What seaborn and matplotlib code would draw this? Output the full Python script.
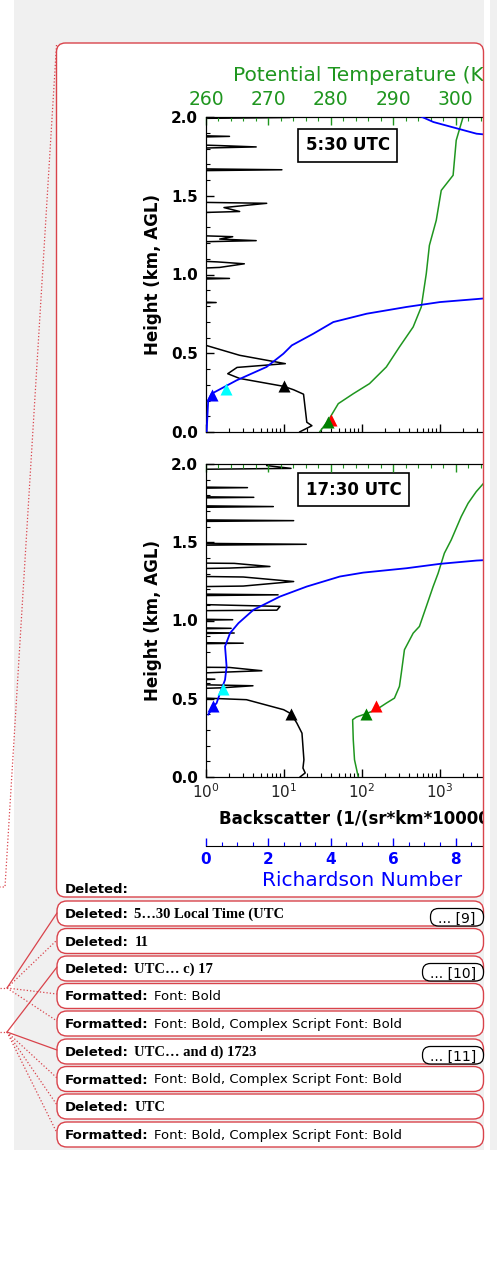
import numpy as np
import matplotlib.pyplot as plt
import matplotlib.ticker as mticker
from matplotlib.patches import FancyBboxPatch, Rectangle
import seaborn as sns

sns.set_style('ticks', rc={'axes.edgecolor': 'black', 'axes.linewidth': 1.1,
                           'xtick.direction': 'in', 'ytick.direction': 'in',
                           'xtick.color': 'black', 'ytick.color': 'black',
                           'text.color': 'black', 'axes.labelcolor': 'black'})
plt.rcParams['font.family'] = ['DejaVu Sans']

GREEN = '#1f961f'
BLUE = '#0000ff'
RED = '#d9434b'
GRAY = '#f0f0f0'
LO = 0.5  # no signal, falls left of the backscatter axis

# ---- 05:30 UTC profiles ----
h_bs_a = [0.0, 0.04, 0.062, 0.24, 0.268, 0.29, 0.34, 0.37, 0.41, 0.434, 0.487, 0.55, 0.56,
          0.815, 0.822, 0.83, 0.968, 0.975, 0.982, 1.035, 1.045, 1.068, 1.08, 1.09,
          1.205, 1.215, 1.225, 1.24, 1.25, 1.39, 1.40, 1.425, 1.452, 1.46,
          1.658, 1.665, 1.672, 1.80, 1.81, 1.818, 1.826, 1.87, 1.877, 1.884, 1.99, 1.997, 2.0]
bs_a = [15.8, 22.8, 19.6, 17.8, 13.3, 9.9, 2.7, 1.9, 2.5, 10.4, 2.7, 1.0, LO,
        LO, 1.35, LO, LO, 2.0, LO, LO, 1.5, 3.1, 1.4, LO,
        LO, 4.4, 1.5, 2.2, LO, LO, 2.7, 1.7, 6.0, LO,
        LO, 9.4, LO, LO, 4.4, 1.6, LO, LO, 2.0, LO, LO, 12.0, LO]
h_ri_a = [0.0, 0.2, 0.243, 0.328, 0.413, 0.497, 0.55, 0.624, 0.698, 0.751, 0.794, 0.825,
          0.844, 0.87, 0.90, 1.80, 1.85, 1.894, 1.968, 2.02]
ri_a = [0.02, 0.07, 0.18, 0.98, 1.94, 2.48, 2.75, 3.44, 4.08, 5.15, 6.43, 7.5,
        8.67, 10.2, 13.0, 14.0, 11.0, 8.67, 7.29, 6.7]
h_th_a = [0.0, 0.074, 0.18, 0.243, 0.307, 0.413, 0.54, 0.667, 0.794, 1.005, 1.185, 1.344,
          1.534, 1.63, 1.852, 2.0]
th_a = [278.2, 279.6, 281.2, 283.6, 286.2, 288.9, 291.0, 293.2, 294.5, 295.3, 295.8, 296.9,
        297.7, 299.6, 300.1, 301.2]
# markers: (value, height)
mk_bs_a = (9.9, 0.29)
mk_ri_a = (0.18, 0.233)
mk_ri2_a = (0.64, 0.275)
mk_th_red_a = (280.1, 0.074)
mk_th_a = (279.6, 0.063)

# ---- 17:30 UTC profiles ----
h_bs_b = [0.0, 0.026, 0.057, 0.11, 0.28, 0.345, 0.404, 0.43, 0.494, 0.504, 0.51,
          0.562, 0.57, 0.583, 0.592, 0.615, 0.625, 0.632, 0.66, 0.679, 0.70, 0.702,
          0.85, 0.855, 0.86, 0.915, 0.92, 0.925, 0.945, 0.95, 0.955, 1.0, 1.005, 1.01,
          1.062, 1.066, 1.09, 1.105, 1.158, 1.164, 1.17,
          1.215, 1.22, 1.249, 1.278, 1.283, 1.33, 1.335, 1.345, 1.365, 1.368,
          1.48, 1.487, 1.494, 1.632, 1.638, 1.644, 1.722, 1.728, 1.734, 1.782, 1.787, 1.792,
          1.844, 1.849, 1.854, 1.965, 1.972, 1.99, 2.0]
bs_b = [16.0, 18.7, 17.5, 18.0, 17.0, 14.6, 12.3, 9.9, 3.3, 1.0, LO,
        LO, 1.6, 4.0, LO, LO, 1.3, LO, LO, 5.2, 2.0, LO,
        LO, 3.0, LO, LO, 2.3, LO, LO, 2.1, LO, LO, 2.2, LO,
        LO, 8.1, 8.9, LO, LO, 8.4, LO,
        LO, 3.0, 13.3, 3.0, LO, LO, 2.0, 6.6, 2.3, LO,
        LO, 19.3, LO, LO, 13.3, LO, LO, 7.3, LO, LO, 4.1, LO,
        LO, 3.4, LO, LO, 12.3, 6.0, 6.0]
h_ri_b = [0.398, 0.451, 0.472, 0.536, 0.621, 0.706, 0.834, 0.919, 0.983, 1.068, 1.153,
          1.217, 1.281, 1.306, 1.334, 1.362, 1.383, 1.40, 1.42]
ri_b = [0.07, 0.24, 0.34, 0.45, 0.61, 0.66, 0.61, 0.77, 1.04, 1.52, 2.37,
        3.23, 4.29, 5.04, 6.43, 7.5, 8.67, 10.3, 14.0]
h_th_b = [0.0, 0.11, 0.238, 0.366, 0.383, 0.404, 0.43, 0.472, 0.504, 0.579, 0.664, 0.813,
          0.919, 0.962, 1.089, 1.217, 1.302, 1.43, 1.515, 1.664, 1.749, 1.823, 1.9, 2.0]
th_b = [284.4, 283.8, 283.6, 283.5, 284.1, 285.6, 287.3, 288.9, 290.2, 291.0, 291.3, 291.8,
        293.2, 294.2, 295.3, 296.4, 297.2, 298.2, 299.3, 300.9, 302.0, 303.3, 305.0, 307.0]
mk_bs_b = (12.3, 0.404)
mk_ri_b = (0.24, 0.451)
mk_ri2_b = (0.56, 0.562)
mk_th_red_b = (287.2, 0.451)
mk_th_b = (285.6, 0.404)

# axis ticks (the last tick of each x axis sits past the page crop, so it has no label)
y_ticks = [0.0, 0.5, 1.0, 1.5, 2.0]
y_tick_labels = ['0.0', '0.5', '1.0', '1.5', '2.0']
bs_ticks = [1, 10, 100, 1000, 10000]
bs_tick_labels = ['$10^0$', '$10^1$', '$10^2$', '$10^3$', '']
th_ticks = [260, 270, 280, 290, 300, 310]
th_tick_labels = ['260', '270', '280', '290', '300', '']
ri_ticks = [0, 2, 4, 6, 8, 10]
ri_tick_labels = ['0', '2', '4', '6', '8', '']

# comment balloons (text parts)
comments = [('Deleted:', '5\u202630 Local Time (UTC', 'serif', '... [9]'),
            ('Deleted:', '11', 'serif', None),
            ('Deleted:', 'UTC\u2026 c) 17', 'serif', '... [10]'),
            ('Formatted:', 'Font: Bold', 'sans', None),
            ('Formatted:', 'Font: Bold, Complex Script Font: Bold', 'sans', None),
            ('Deleted:', 'UTC\u2026 and d) 1723', 'serif', '... [11]'),
            ('Formatted:', 'Font: Bold, Complex Script Font: Bold', 'sans', None),
            ('Deleted:', 'UTC', 'serif', None),
            ('Formatted:', 'Font: Bold, Complex Script Font: Bold', 'sans', None)]
comment_tops = [901, 928.5, 956, 983.5, 1011, 1039, 1066.5, 1094, 1122]

W, H = 497, 1262
fig = plt.figure(figsize=(W / 100, H / 100), dpi=100)

# page background and main balloon
bg = fig.add_axes([0, 0, 1, 1], zorder=-1)
bg.set_xlim(0, W)
bg.set_ylim(H, 0)
bg.axis('off')
bg.add_patch(Rectangle((14, 0), 476, 1150, facecolor=GRAY, edgecolor='none'))
bg.add_patch(FancyBboxPatch((56.5, 43), 427, 854, boxstyle='round,pad=0,rounding_size=9',
                            facecolor='white', edgecolor='none'))


def panel(top, bottom, h_bs, bs, h_th, th, h_ri, ri, mk_bs, mk_ri, mk_ri2, mk_red, mk_th,
          stamp, first):
    ax = fig.add_axes([206 / W, 1 - bottom / H, 312 / W, (bottom - top) / H])
    ax.set_xscale('log')
    sns.lineplot(x=bs, y=h_bs, sort=False, estimator=None, color='black', lw=1.1, ax=ax)
    sns.scatterplot(x=[mk_bs[0]], y=[mk_bs[1]], marker='^', s=75, color='black',
                    linewidth=0, ax=ax, zorder=4)
    ax.set_xlim(1, 1e4)
    ax.set_ylim(0, 2)
    ax.set_yticks(y_ticks, labels=y_tick_labels, fontweight='bold', fontsize=11)
    ax.yaxis.set_minor_locator(mticker.MultipleLocator(0.1))
    ax.set_xticks(bs_ticks, labels=bs_tick_labels if not first else [''] * len(bs_ticks))
    ax.tick_params(axis='y', which='major', length=6, width=1, pad=6)
    ax.tick_params(axis='y', which='minor', length=3, width=0.8)
    ax.tick_params(axis='x', which='both', top=False, bottom=True, labelbottom=not first,
                   labelsize=11, labelcolor='#222222', pad=4)
    ax.tick_params(axis='x', which='major', length=6, width=1)
    ax.tick_params(axis='x', which='minor', length=3, width=0.8)
    ax.set_xlabel('')
    ax.set_ylabel('')
    ax.text(-0.17, 0.5, 'Height (km, AGL)', transform=ax.transAxes, rotation=90,
            ha='center', va='center', fontsize=12, fontweight='bold')
    ax.text(0.32, 0.91 if first else 0.917, stamp, transform=ax.transAxes, ha='left',
            va='center', fontsize=12, fontweight='bold',
            bbox=dict(boxstyle='square,pad=0.45', facecolor='white', edgecolor='black', lw=1.2))
    if not first:
        ax.set_xlabel('Backscatter (1/(sr*km*10000))', fontsize=12, fontweight='bold',
                      labelpad=6)

    axt = ax.twiny()
    sns.lineplot(x=th, y=h_th, sort=False, estimator=None, color=GREEN, lw=1.1, ax=axt)
    sns.scatterplot(x=[mk_red[0]], y=[mk_red[1]], marker='^', s=75, color='red',
                    linewidth=0, ax=axt, zorder=3)
    sns.scatterplot(x=[mk_th[0]], y=[mk_th[1]], marker='^', s=75, color='green',
                    linewidth=0, ax=axt, zorder=4)
    axt.set_xlim(260, 310)
    axt.set_ylim(0, 2)
    axt.set_xticks(th_ticks, labels=th_tick_labels if first else [''] * len(th_ticks))
    axt.xaxis.set_minor_locator(mticker.MultipleLocator(2))
    axt.tick_params(axis='x', which='both', colors=GREEN, top=True, bottom=False,
                    labeltop=first, labelsize=13.5, pad=6)
    axt.tick_params(axis='x', which='major', length=6, width=1)
    axt.tick_params(axis='x', which='minor', length=3, width=0.8)
    axt.set_ylabel('')
    if first:
        axt.set_xlabel('Potential Temperature (K)', color=GREEN, fontsize=14.5, labelpad=6)
    else:
        axt.set_xlabel('')

    axr = ax.twiny()
    sns.lineplot(x=ri, y=h_ri, sort=False, estimator=None, color=BLUE, lw=1.3, ax=axr)
    sns.scatterplot(x=[mk_ri2[0]], y=[mk_ri2[1]], marker='^', s=75, color='cyan',
                    linewidth=0, ax=axr, zorder=3)
    sns.scatterplot(x=[mk_ri[0]], y=[mk_ri[1]], marker='^', s=75, color=BLUE,
                    linewidth=0, ax=axr, zorder=4)
    axr.set_xlim(0, 10)
    axr.set_ylim(0, 2)
    axr.set_ylabel('')
    for sp in axr.spines.values():
        sp.set_visible(False)
    if first:
        axr.xaxis.set_visible(False)
    else:
        axr.xaxis.set_ticks_position('bottom')
        axr.xaxis.set_label_position('bottom')
        axr.spines['bottom'].set_visible(True)
        axr.spines['bottom'].set_position(('outward', 50))
        axr.set_xticks(ri_ticks, labels=ri_tick_labels, fontweight='bold', fontsize=11)
        axr.xaxis.set_minor_locator(mticker.MultipleLocator(0.5))
        axr.tick_params(axis='x', which='both', colors=BLUE, pad=4)
        axr.tick_params(axis='x', which='major', length=6, width=1)
        axr.tick_params(axis='x', which='minor', length=3, width=0.8)
        axr.set_xlabel('Richardson Number', color=BLUE, fontsize=14.5, labelpad=3)
    return ax


panel(117, 432, h_bs_a, bs_a, h_th_a, th_a, h_ri_a, ri_a, mk_bs_a, mk_ri_a, mk_ri2_a,
      mk_th_red_a, mk_th_a, '5:30 UTC', True)
panel(464, 777, h_bs_b, bs_b, h_th_b, th_b, h_ri_b, ri_b, mk_bs_b, mk_ri_b, mk_ri2_b,
      mk_th_red_b, mk_th_b, '17:30 UTC', False)

# foreground: balloon edge that crops the chart, comments and connectors
fg = fig.add_axes([0, 0, 1, 1], zorder=5)
fg.set_xlim(0, W)
fg.set_ylim(H, 0)
fg.axis('off')
fg.add_patch(Rectangle((484.3, 0), 6, 1150, facecolor='white', edgecolor='none'))
fg.add_patch(Rectangle((490.3, 0), 7, 1150, facecolor=GRAY, edgecolor='none'))
fg.add_patch(FancyBboxPatch((56.5, 43), 427, 854, boxstyle='round,pad=0,rounding_size=9',
                            facecolor='none', edgecolor=RED, lw=1.0))
fg.text(65, 893, 'Deleted:', fontsize=9.5, fontweight='bold', va='baseline')

fg.plot([56.5, 5, 0], [45, 887, 887], color=RED, lw=0.9, ls=':')
j1, j2 = (7, 988), (7, 1032)
fg.plot([0, j1[0]], [j1[1], j1[1]], color=RED, lw=0.9, ls=':')
fg.plot([0, j2[0]], [j2[1], j2[1]], color=RED, lw=0.9, ls=':')
for yy, solid in [(913, True), (940, False), (994, False), (1021, False)]:
    fg.plot([j1[0], 57], [j1[1], yy], color=RED, lw=0.9, ls='-' if solid else ':')
for yy, solid in [(967, True), (1050, True), (1078, False), (1105, False), (1133, False)]:
    fg.plot([j2[0], 57], [j2[1], yy], color=RED, lw=0.9, ls='-' if solid else ':')

renderer = fig.canvas.get_renderer()
inv = fg.transData.inverted()
for (head, body, kind, more), top in zip(comments, comment_tops):
    fg.add_patch(FancyBboxPatch((57, top), 426.5, 25, boxstyle='round,pad=0,rounding_size=10',
                                facecolor='white', edgecolor=RED, lw=1.0))
    base = top + 17
    t1 = fg.text(65, base, head, fontsize=9.5, fontweight='bold', va='baseline')
    x1 = inv.transform((t1.get_window_extent(renderer).x1, 0))[0]
    if kind == 'serif':
        fg.text(x1 + 5.5, base, body, fontsize=10.5, fontweight='bold', va='baseline',
                family=['Liberation Serif', 'DejaVu Serif'])
    else:
        fg.text(x1 + 5.5, base, body, fontsize=9.5, va='baseline')
    if more:
        bw = 53 if len(more) < 8 else 61
        fg.add_patch(FancyBboxPatch((483.5 - bw, top + 7.5), bw, 17.5,
                                    boxstyle='round,pad=0,rounding_size=8',
                                    facecolor='white', edgecolor='black', lw=0.9))
        fg.text(483.5 - bw / 2, top + 22, more, fontsize=10, ha='center', va='baseline')

fig.savefig('out.png', dpi=100)
